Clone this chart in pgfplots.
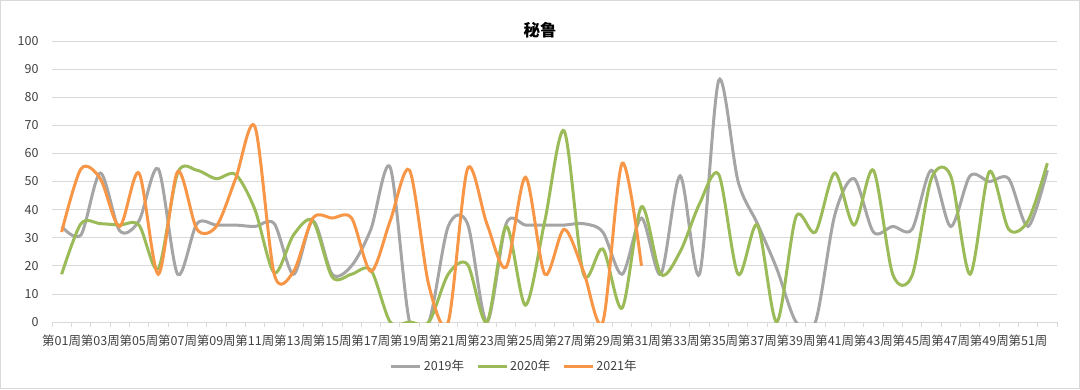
\documentclass[border=0pt]{standalone}
\usepackage{fontspec}
\setmainfont{Noto Sans CJK SC}
\usepackage{pgfplots}
\usepackage{pgfplotstable}
\pgfplotsset{compat=1.18}
\definecolor{c19}{HTML}{A5A5A5}
\definecolor{c20}{HTML}{9BBB59}
\definecolor{c21}{HTML}{F79646}
\definecolor{gridc}{HTML}{D9D9D9}
\definecolor{txt}{HTML}{404040}

\pgfplotstableread{
w v
1 34
2 31
3 53
4 32.5
5 36
6 54.5
7 17
8 35
9 34.5
10 34.5
11 34
12 35
13 17
14 36
15 17
16 20
17 33
18 55
19 0
20 0
21 34
22 35
23 0
24 35
25 34.5
26 34.5
27 34.5
28 35
29 32
30 17
31 37
32 17
33 52
34 17
35 86
36 50
37 35
38 19
39 0
40 0
41 38
42 51
43 32
44 34
45 33
46 54
47 34
48 52
49 50
50 51
51 34
52 54
}\dataA

\pgfplotstableread{
w v
1 17
2 35
3 35
4 34.5
5 34.5
6 19
7 53
8 54
9 51
10 52.5
11 40
12 17.5
13 31
14 36
15 16
16 17
17 18.5
18 0
19 0
20 0
21 17
22 20.5
23 0
24 34
25 6
26 36
27 68
28 17
29 26
30 5
31 41
32 17
33 25
34 42
35 52.5
36 17
37 34.5
38 0
39 37.5
40 32
41 53
42 34.5
43 54
44 17
45 16.5
46 51
47 52
48 17
49 53.5
50 33
51 36
52 56.5
}\dataB

\pgfplotstableread{
w v
1 32
2 54.5
3 51
4 34
5 53
6 17
7 53.5
8 33
9 34
10 51
11 69.5
12 17
13 18
14 37
15 37
16 37
17 18
18 36
19 54
20 13
21 0
22 54.5
23 35
24 19.5
25 51.5
26 17
27 33
28 18
29 0
30 56.5
31 20
}\dataC

\begin{document}
\begin{tikzpicture}
\useasboundingbox (-52pt,-67pt) rectangle (1028pt,322pt);
\draw[color=gridc, line width=0.8pt] (-51.6pt,-66.6pt) rectangle (1027.6pt,321.6pt);
\begin{axis}[
  at={(0pt,0pt)}, anchor=south west,
  scale only axis, width=1005pt, height=281pt,
  xmin=0.5, xmax=52.5, ymin=0, ymax=100,
  ytick={0,10,...,100},
  xtick={1,3,...,51},
  xticklabels={第01周,第03周,第05周,第07周,第09周,第11周,第13周,第15周,第17周,第19周,第21周,第23周,第25周,第27周,第29周,第31周,第33周,第35周,第37周,第39周,第41周,第43周,第45周,第47周,第49周,第51周},
  minor xtick={0.5,1.5,...,52.5},
  major tick length=0pt,
  minor tick length=5pt,
  xtick align=outside,
  tick pos=bottom,
  minor tick style={gridc, line width=0.8pt},
  ymajorgrids, grid style={gridc, line width=0.8pt},
  axis lines*=left,
  x axis line style={gridc, line width=0.8pt},
  y axis line style={draw=none},
  ticklabel style={font=\fontsize{12.5}{13}\selectfont, text=txt},
  /pgf/number format/assume math mode=true,
  xticklabel style={yshift=-9pt},
  yticklabel style={xshift=-10pt},
  title={\textbf{秘鲁}},
  title style={at={(0.4856,1)}, anchor=center, yshift=5pt, font=\fontsize{16.5}{17}\selectfont\bfseries, text=black},
  legend style={at={(0.46,-0.157)}, anchor=center, draw=none, fill=none,
    font=\fontsize{12.5}{13}\selectfont, text=txt,
    /tikz/every even column/.append style={column sep=10pt}},
  legend columns=3,
  legend image code/.code={\draw[#1, line width=3pt] (0pt,0pt) -- (29pt,0pt);},
  every axis plot/.append style={line width=3pt, smooth, tension=0.5, no markers},
]
\addplot[c19] table[x=w, y=v] {\dataA};
\addplot[c20] table[x=w, y=v] {\dataB};
\addplot[c21] table[x=w, y=v] {\dataC};
\legend{2019年,2020年,2021年}
\end{axis}
\end{tikzpicture}
\end{document}
